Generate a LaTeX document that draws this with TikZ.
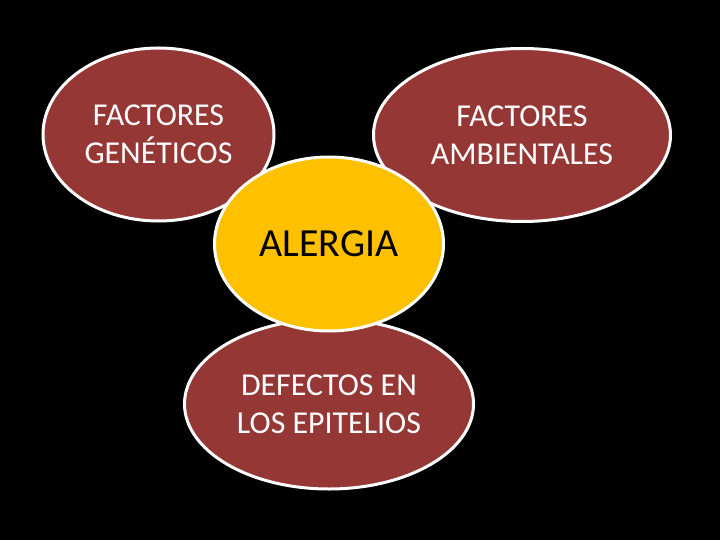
\documentclass[tikz,border=0pt]{standalone}
\usepackage{fontspec}
\setmainfont{Carlito}
\usetikzlibrary{shapes.geometric}
\definecolor{bubred}{HTML}{953735}
\definecolor{bubyel}{HTML}{FFC000}
\begin{document}
\begin{tikzpicture}[x=1bp,y=-1bp,
  bubble/.style={ellipse, draw=white, line width=3bp, fill=bubred, text=white,
    align=center, inner sep=0pt, font=\fontsize{32}{38}\selectfont},
  core/.style={ellipse, draw=white, line width=3bp, fill=bubyel, text=black,
    align=center, inner sep=0pt, font=\fontsize{40}{46}\selectfont}]
\fill[black] (0,0) rectangle (720,540);
\useasboundingbox (0,0) rectangle (720,540);
\node[bubble, minimum width=231bp, minimum height=173bp] (gen) at (158.5,134.5) {FACTORES\\GENÉTICOS};
\node[bubble, minimum width=297bp, minimum height=173bp] (amb) at (522,135) {FACTORES\\AMBIENTALES};
\node[bubble, minimum width=289bp, minimum height=170bp] (epi) at (329,404) {DEFECTOS EN\\LOS EPITELIOS};
\node[core, minimum width=229bp, minimum height=174bp] (ale) at (329,244) {ALERGIA};
\end{tikzpicture}
\end{document}
